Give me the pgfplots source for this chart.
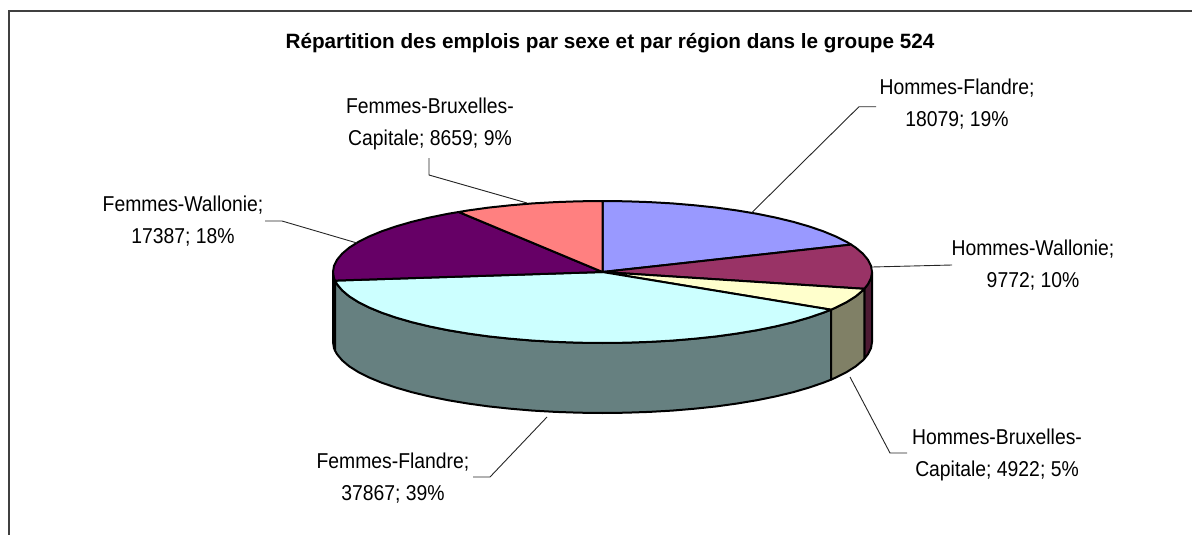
\documentclass[border=0pt]{standalone}
\usepackage{fontspec}
\setmainfont{Liberation Sans}
\newfontfamily\labfont[FakeStretch=0.9]{Liberation Sans}
\usepackage{pgfplots}
\pgfplotsset{compat=1.18}
\definecolor{hf}{HTML}{9999FF}
\definecolor{hw}{HTML}{993366}
\definecolor{hb}{HTML}{FFFFCC}
\definecolor{ff}{HTML}{CCFFFF}
\definecolor{fw}{HTML}{660066}
\definecolor{fb}{HTML}{FF8080}
\definecolor{hwside}{HTML}{4D1A33}
\definecolor{hbside}{HTML}{808066}
\definecolor{ffside}{HTML}{668080}
\definecolor{fwside}{HTML}{330033}
\tikzset{
  slice/.style={draw=black,line width=2pt,line join=round},
  leader/.style={draw=black!85,line width=0.9pt},
  lab/.style={align=center,inner sep=0pt,font=\labfont\fontsize{21.5}{32}\selectfont},
}
\begin{document}
\begin{tikzpicture}
\useasboundingbox (0,0) rectangle (1192pt,535pt);
\begin{axis}[
  scale only axis,width=1192pt,height=535pt,
  xmin=0,xmax=1192,ymin=0,ymax=535,y dir=reverse,
  hide axis,clip=false,
]
% frame, open at the right and at the bottom
\addplot[draw=black!75,line width=2pt] coordinates {(9,535) (9,11) (1192,11)};
% sides
\addplot[slice,fill=fwside] coordinates {(335,280.6) (334,278.2) (333,272) (333,342) (334,348.2) (335,350.6)} --cycle;
\addplot[slice,fill=ffside] coordinates {(831,309.7) (823.3,312.7) (809,317.6) (793.1,322.2) (775.7,326.4) (757.1,330.2) (737.3,333.5) (716.4,336.4) (694.7,338.7) (672.3,340.6) (649.3,341.9) (626,342.7) (602.5,343) (579,342.7) (555.7,341.9) (532.7,340.6) (510.3,338.7) (488.6,336.4) (467.7,333.5) (447.9,330.2) (429.3,326.4) (411.9,322.2) (396,317.6) (381.7,312.7) (369.1,307.5) (358.2,302) (349.2,296.3) (342.2,290.4) (337.1,284.3) (335,280.6)
 (335,350.6) (337.1,354.3) (342.2,360.4) (349.2,366.3) (358.2,372) (369.1,377.5) (381.7,382.7) (396,387.6) (411.9,392.2) (429.3,396.4) (447.9,400.2) (467.7,403.5) (488.6,406.4) (510.3,408.7) (532.7,410.6) (555.7,411.9) (579,412.7) (602.5,413) (626,412.7) (649.3,411.9) (672.3,410.6) (694.7,408.7) (716.4,406.4) (737.3,403.5) (757.1,400.2) (775.7,396.4) (793.1,392.2) (809,387.6) (823.3,382.7) (831,379.7)} --cycle;
\addplot[slice,fill=hwside] coordinates {(872,272) (871,278.2) (867.9,284.3) (864.3,288.8) (864.3,358.8) (867.9,354.3) (871,348.2) (872,342)} --cycle;
\addplot[slice,fill=hbside] coordinates {(864.3,288.8) (862.8,290.4) (855.8,296.3) (846.8,302) (835.9,307.5) (831,309.7) (831,379.7) (835.9,377.5) (846.8,372) (855.8,366.3) (862.8,360.4) (864.3,358.8)} --cycle;
% top face
\addplot[slice,fill=hf] coordinates {(602.5,272) (602.5,201) (626,201.3) (649.3,202.1) (672.3,203.4) (694.7,205.3) (716.4,207.6) (737.3,210.5) (757.1,213.8) (775.7,217.6) (793.1,221.8) (809,226.4) (823.3,231.3) (835.9,236.5) (846.8,242) (851.2,244.6)} --cycle;
\addplot[slice,fill=hw] coordinates {(602.5,272) (851.2,244.6) (855.8,247.7) (862.8,253.6) (867.9,259.7) (871,265.8) (872,272) (871,278.2) (867.9,284.3) (864.3,288.8)} --cycle;
\addplot[slice,fill=hb] coordinates {(602.5,272) (864.3,288.8) (862.8,290.4) (855.8,296.3) (846.8,302) (835.9,307.5) (831,309.7)} --cycle;
\addplot[slice,fill=ff] coordinates {(602.5,272) (831,309.7) (823.3,312.7) (809,317.6) (793.1,322.2) (775.7,326.4) (757.1,330.2) (737.3,333.5) (716.4,336.4) (694.7,338.7) (672.3,340.6) (649.3,341.9) (626,342.7) (602.5,343) (579,342.7) (555.7,341.9) (532.7,340.6) (510.3,338.7) (488.6,336.4) (467.7,333.5) (447.9,330.2) (429.3,326.4) (411.9,322.2) (396,317.6) (381.7,312.7) (369.1,307.5) (358.2,302) (349.2,296.3) (342.2,290.4) (337.1,284.3) (335,280.6)} --cycle;
\addplot[slice,fill=fw] coordinates {(602.5,272) (335,280.6) (334,278.2) (333,272) (334,265.8) (337.1,259.7) (342.2,253.6) (349.2,247.7) (358.2,242) (369.1,236.5) (381.7,231.3) (396,226.4) (411.9,221.8) (429.3,217.6) (447.9,213.8) (458.7,212)} --cycle;
\addplot[slice,fill=fb] coordinates {(602.5,272) (458.7,212) (467.7,210.5) (488.6,207.6) (510.3,205.3) (532.7,203.4) (555.7,202.1) (579,201.3) (602.5,201)} --cycle;
% leader lines
\addplot[leader] coordinates {(751.7,212.7) (859,106.7) (876,106.7)};
\addplot[leader] coordinates {(872,267) (952,265)};
\addplot[leader] coordinates {(850,377) (890,453) (907,453)};
\addplot[leader] coordinates {(547,417) (490,477) (473,477)};
\addplot[leader] coordinates {(357,243) (282,221) (265,221)};
\addplot[leader] coordinates {(527,203) (429,175) (429,158)};
% texts
\node[font=\fontsize{20.7}{24}\selectfont\bfseries,inner sep=0pt] at (axis cs:610,43) {Répartition des emplois par sexe et par région dans le groupe 524};
\node[lab] at (axis cs:957,104.5) {Hommes-Flandre;\\18079; 19\%};
\node[lab] at (axis cs:1033,265.5) {Hommes-Wallonie;\\9772; 10\%};
\node[lab] at (axis cs:997,455) {Hommes-Bruxelles-\\Capitale; 4922; 5\%};
\node[lab] at (axis cs:393,478) {Femmes-Flandre;\\37867; 39\%};
\node[lab] at (axis cs:183,221.5) {Femmes-Wallonie;\\17387; 18\%};
\node[lab] at (axis cs:430,124) {Femmes-Bruxelles-\\Capitale; 8659; 9\%};
\end{axis}
\end{tikzpicture}
\end{document}
